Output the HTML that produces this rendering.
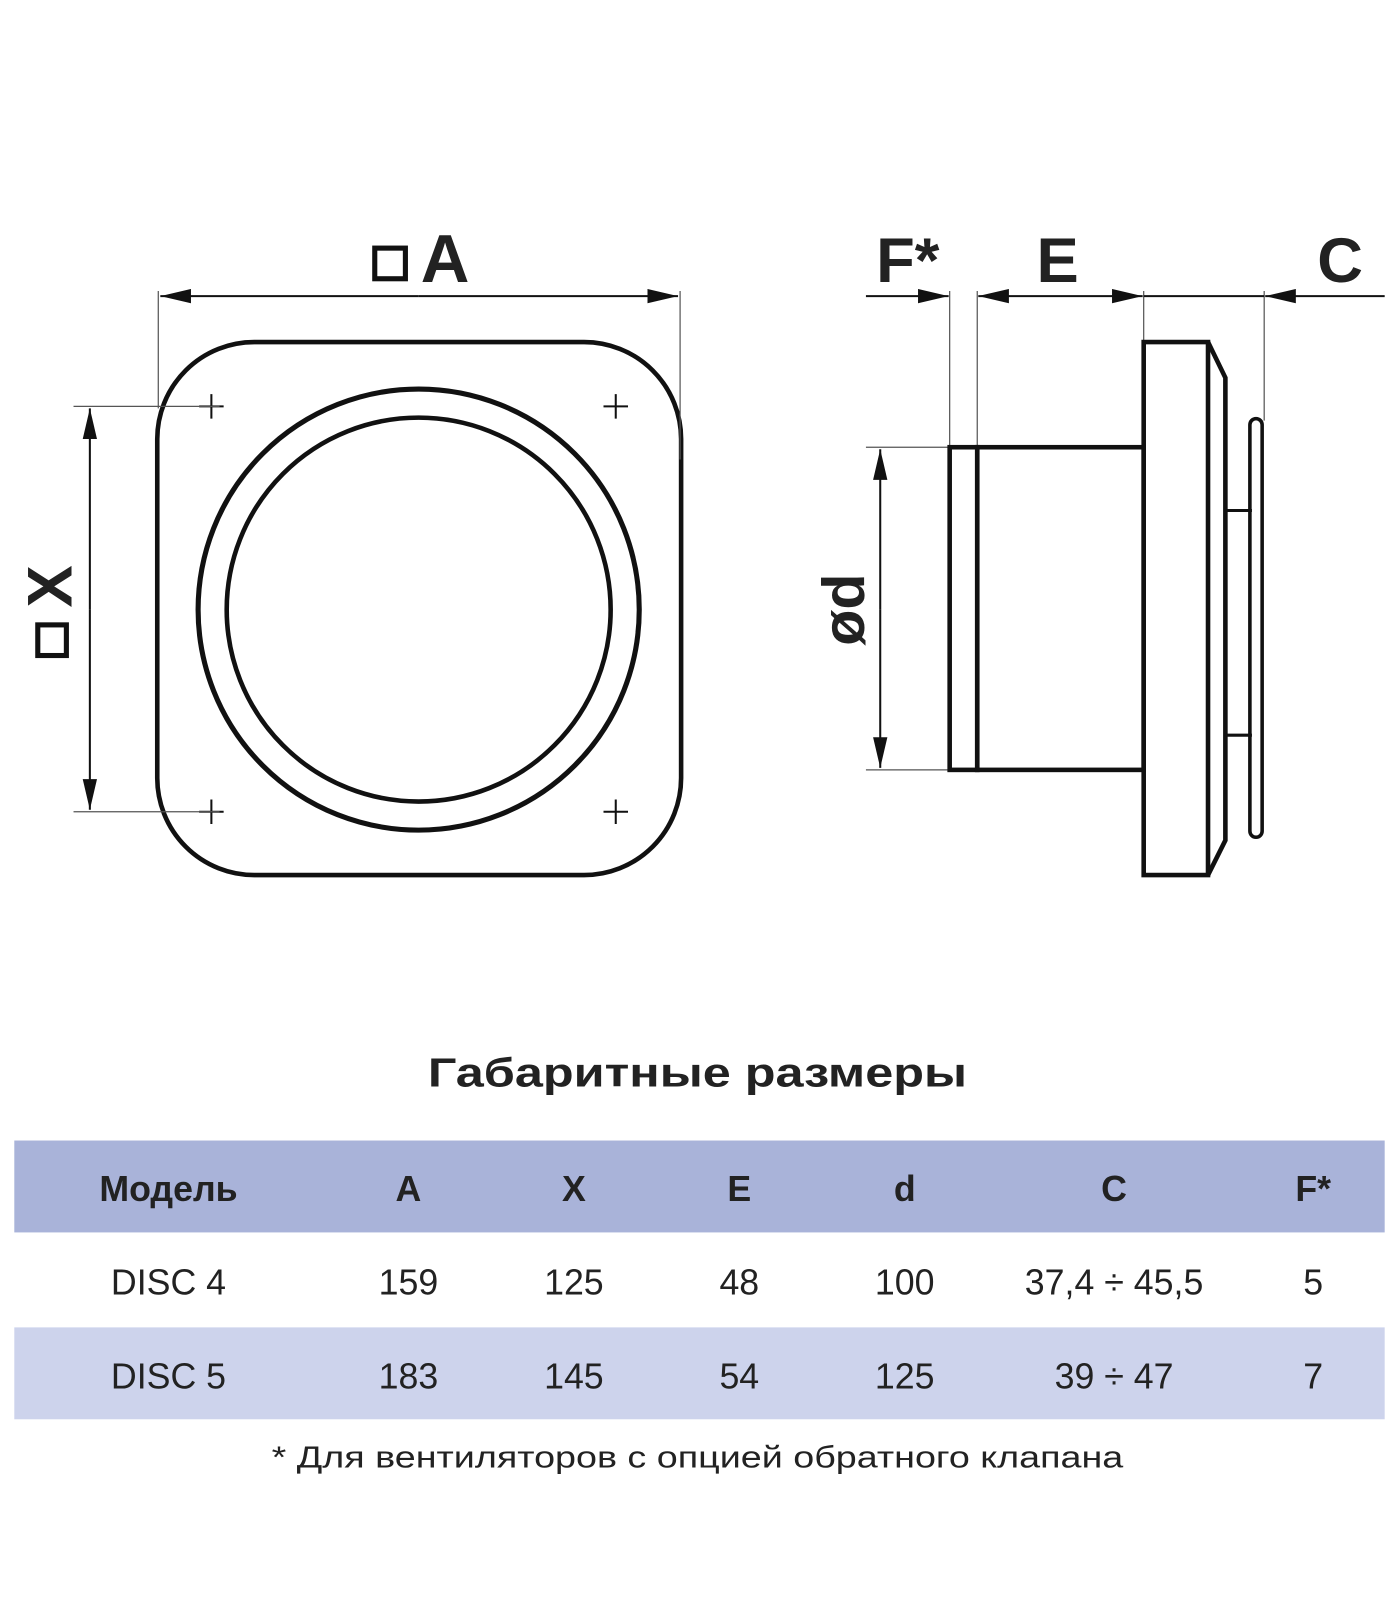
<!DOCTYPE html>
<html><head><meta charset="utf-8"><style>
html,body{margin:0;padding:0;background:#fff;}
svg{display:block;}
text{font-family:"Liberation Sans",sans-serif;fill:#222;}
</style></head><body>
<svg width="1400" height="1600" viewBox="0 0 1371 1567" preserveAspectRatio="none" xmlns="http://www.w3.org/2000/svg">
<defs>
<marker id="ar" viewBox="0 0 30 14" refX="30" refY="7" markerWidth="30" markerHeight="14" markerUnits="userSpaceOnUse" orient="auto"><path d="M0,0 L30,7 L0,14 Z" fill="#111"/></marker>
</defs>
<g stroke="#111" fill="none">
<rect x="154" y="335" width="513" height="522" rx="95" stroke-width="4.5"/>
<circle cx="410" cy="597" r="216" stroke-width="5"/>
<circle cx="410" cy="597" r="188" stroke-width="4.5"/>
<g stroke-width="2">
<path d="M195,398h24M207,386v24M591,398h24M603,386v24M195,795h24M207,783v24M591,795h24M603,783v24"/>
</g>
<g stroke-width="1.2" stroke="#555">
<path d="M155,285V400M666,285V450M72,398H215M72,795H215"/>
</g>
<g stroke-width="2">
<line x1="410" y1="290" x2="157" y2="290" marker-end="url(#ar)"/>
<line x1="410" y1="290" x2="664" y2="290" marker-end="url(#ar)"/>
<line x1="88" y1="597" x2="88" y2="400" marker-end="url(#ar)"/>
<line x1="88" y1="597" x2="88" y2="793" marker-end="url(#ar)"/>
</g>
<g stroke-width="1.2" stroke="#555">
<path d="M930,285V438M957,285V438M1120,285V335M1238,285V412M848,438H930M848,754H930"/>
</g>
<g stroke-width="2">
<line x1="848" y1="290" x2="929" y2="290" marker-end="url(#ar)"/>
<line x1="1040" y1="290" x2="958" y2="290" marker-end="url(#ar)"/>
<line x1="1040" y1="290" x2="1119" y2="290" marker-end="url(#ar)"/>
<line x1="1120" y1="290" x2="1238" y2="290"/>
<line x1="1356" y1="290" x2="1239" y2="290" marker-end="url(#ar)"/>
<line x1="862" y1="597" x2="862" y2="440" marker-end="url(#ar)"/>
<line x1="862" y1="597" x2="862" y2="752" marker-end="url(#ar)"/>
</g>
<g stroke-width="4.5" stroke-linejoin="miter">
<rect x="930" y="438" width="27" height="316"/>
<rect x="957" y="438" width="163" height="316"/>
<rect x="1120" y="335" width="63" height="522"/>
<path d="M1183,335 L1200,370 L1200,823 L1183,857"/>
<path d="M1200,500H1226M1200,720H1226" stroke-width="3"/>
<rect x="1224" y="410" width="12" height="410" rx="6" stroke-width="3.5"/>
</g>
</g>
<rect x="367" y="243" width="30" height="30" fill="none" stroke="#111" stroke-width="5"/>
<text x="412" y="276" font-size="66" font-weight="bold">A</text>
<g transform="translate(70,597) rotate(-90)">
<text x="2" y="0" font-size="62" font-weight="bold">X</text>
</g>
<rect x="37" y="612" width="28" height="30" fill="none" stroke="#111" stroke-width="5"/>
<text x="858" y="276" font-size="62" font-weight="bold">F*</text>
<text x="1015" y="276" font-size="62" font-weight="bold">E</text>
<text x="1290" y="276" font-size="62" font-weight="bold">C</text>
<g transform="translate(846,597) rotate(-90)">
<text x="0" y="0" font-size="58" font-weight="bold" text-anchor="middle">ød</text>
</g>
<text x="683" y="1064" font-size="40" font-weight="bold" text-anchor="middle" textLength="528" lengthAdjust="spacingAndGlyphs">Габаритные размеры</text>
<rect x="14" y="1117" width="1342" height="90" fill="#a9b3d9"/>
<rect x="14" y="1300" width="1342" height="90" fill="#cdd3ec"/>
<g font-size="35" text-anchor="middle">
<g font-weight="bold">
<text x="165" y="1176">Модель</text><text x="400" y="1176">A</text><text x="562" y="1176">X</text><text x="724" y="1176">E</text><text x="886" y="1176">d</text><text x="1091" y="1176">C</text><text x="1286" y="1176">F*</text>
</g>
<text x="165" y="1268">DISC 4</text><text x="400" y="1268">159</text><text x="562" y="1268">125</text><text x="724" y="1268">48</text><text x="886" y="1268">100</text><text x="1091" y="1268">37,4 ÷ 45,5</text><text x="1286" y="1268">5</text>
<text x="165" y="1360">DISC 5</text><text x="400" y="1360">183</text><text x="562" y="1360">145</text><text x="724" y="1360">54</text><text x="886" y="1360">125</text><text x="1091" y="1360">39 ÷ 47</text><text x="1286" y="1360">7</text>
</g>
<text x="683" y="1437" font-size="30" text-anchor="middle" textLength="834" lengthAdjust="spacingAndGlyphs">* Для вентиляторов с опцией обратного клапана</text>
</svg>
</body></html>
